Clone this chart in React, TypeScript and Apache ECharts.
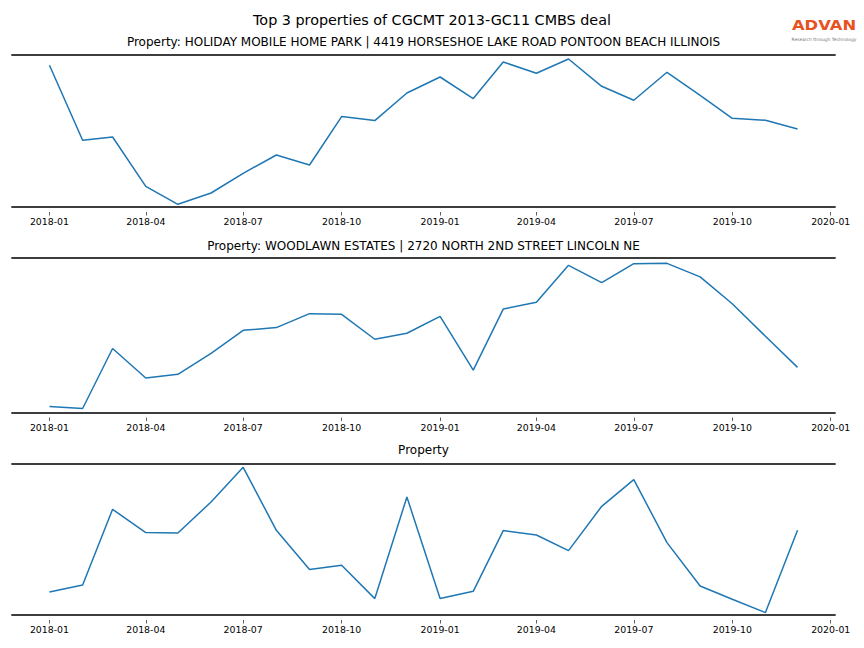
import React, { useEffect, useRef } from "react";
import * as echarts from "echarts";

const months = [
  "2018-01", "2018-02", "2018-03", "2018-04", "2018-05", "2018-06",
  "2018-07", "2018-08", "2018-09", "2018-10", "2018-11", "2018-12",
  "2019-01", "2019-02", "2019-03", "2019-04", "2019-05", "2019-06",
  "2019-07", "2019-08", "2019-09", "2019-10", "2019-11", "2019-12",
];
const tickLabels = [
  "2018-01", "2018-04", "2018-07", "2018-10", "2019-01",
  "2019-04", "2019-07", "2019-10", "2020-01",
];
const mainTitle = "Top 3 properties of CGCMT 2013-GC11 CMBS deal";
const panelTitles = [
  "Property: HOLIDAY MOBILE HOME PARK | 4419 HORSESHOE LAKE ROAD PONTOON BEACH ILLINOIS",
  "Property: WOODLAWN ESTATES | 2720 NORTH 2ND STREET LINCOLN NE",
  "Property",
];
const holidayValues = [
  141.7, 66.7, 70.0, 20.7, 2.7, 14.0, 33.7, 52.0, 42.0, 90.4, 86.4, 114.0,
  130.0, 108.4, 145.0, 133.7, 148.0, 120.7, 106.7, 134.7, 111.7, 88.7, 86.7, 78.0,
];
const woodlawnValues = [
  6.0, 4.0, 64.4, 34.7, 38.4, 59.4, 82.7, 85.4, 99.4, 98.7, 73.7, 79.7,
  96.7, 42.7, 104.0, 111.0, 148.0, 130.7, 149.7, 150.0, 136.4, 109.4, 76.7, 45.4,
];
const thirdValues = [
  23.0, 30.0, 105.7, 82.4, 82.0, 113.0, 147.7, 84.7, 45.4, 49.7, 16.4, 118.0,
  16.4, 23.7, 84.4, 80.0, 64.4, 108.7, 135.4, 72.4, 29.0, 15.7, 2.4, 84.7,
];
const seriesList = [holidayValues, woodlawnValues, thirdValues];
const yMaxes = [152, 155.4, 151];

const FONT = "DejaVu Sans";
const DAY = 86400000;

function toTs(m: string): number {
  const [y, mo] = m.split("-").map(Number);
  return Date.UTC(y, mo - 1, 1);
}
function fmt(v: number): string {
  const d = new Date(v);
  return d.getUTCFullYear() + "-" + String(d.getUTCMonth() + 1).padStart(2, "0");
}

export default function App() {
  const ref = useRef<HTMLDivElement>(null);
  useEffect(() => {
    if (!ref.current) return;
    const chart = echarts.init(ref.current, null, { renderer: "svg" });
    const xMin = toTs(months[0]) - 35 * DAY;
    const xMax = toTs(months[months.length - 1]) + 35 * DAY;
    const tickVals = tickLabels.map(toTs);

    const grids = [
      { left: 12, right: 29, top: 55, height: 152 },
      { left: 12, right: 29, top: 258, height: 154.5 },
      { left: 12, right: 29, top: 464, height: 151 },
    ];
    const titleY = [42, 246, 450];

    const xAxes: any[] = [];
    const yAxes: any[] = [];
    const series: any[] = [];
    const lineStyle = { color: "#3d3d3d", width: 1.8 };
    grids.forEach((_, i) => {
      const base = { type: "value", gridIndex: i, min: xMin, max: xMax, splitLine: { show: false } };
      xAxes.push({
        ...base, position: "bottom",
        axisLine: { show: true, lineStyle }, axisTick: { show: false }, axisLabel: { show: false },
      });
      xAxes.push({
        ...base, position: "bottom", offset: 5,
        axisLine: { show: false },
        axisTick: { show: true, length: 3.5, customValues: tickVals, lineStyle: { color: "#333", width: 0.8 } },
        axisLabel: {
          show: true, customValues: tickVals, formatter: (v: number) => fmt(v),
          fontFamily: FONT, fontSize: 9.4, color: "#000", margin: 5,
        },
      });
      xAxes.push({
        ...base, position: "top",
        axisLine: { show: true, lineStyle }, axisTick: { show: false }, axisLabel: { show: false },
      });
      yAxes.push({ type: "value", gridIndex: i, min: 0, max: yMaxes[i], show: false });
      series.push({
        type: "line",
        xAxisIndex: i * 3,
        yAxisIndex: i,
        data: months.map((m, k) => [toTs(m), seriesList[i][k]]),
        showSymbol: false,
        lineStyle: { color: "#1f77b4", width: 1.5 },
      });
    });

    const graphics: any[] = [
      {
        type: "text", x: 432, y: 20,
        style: { text: mainTitle, font: `14.35px '${FONT}'`, fill: "#000", textAlign: "center", textVerticalAlign: "middle" },
      },
      ...panelTitles.map((t, i) => ({
        type: "text", x: 423.5, y: titleY[i],
        style: { text: t, font: `12px '${FONT}'`, fill: "#000", textAlign: "center", textVerticalAlign: "middle" },
      })),
      {
        type: "text", x: 824, y: 25.5, scaleX: 1.17,
        style: { text: "ADVAN", font: `bold 14px '${FONT}'`, fill: "#e8521f", textAlign: "center", textVerticalAlign: "middle" },
      },
      {
        type: "text", x: 824, y: 39,
        style: { text: "Research through Technology", font: `4.4px '${FONT}'`, fill: "#777", textAlign: "center", textVerticalAlign: "middle" },
      },
    ];

    chart.setOption({
      animation: false,
      backgroundColor: "#fff",
      grid: grids,
      xAxis: xAxes,
      yAxis: yAxes,
      series,
      graphic: graphics,
    });
    return () => chart.dispose();
  }, []);
  return <div ref={ref} style={{ position: "fixed", left: 0, top: 0, width: 864, height: 648 }} />;
}
